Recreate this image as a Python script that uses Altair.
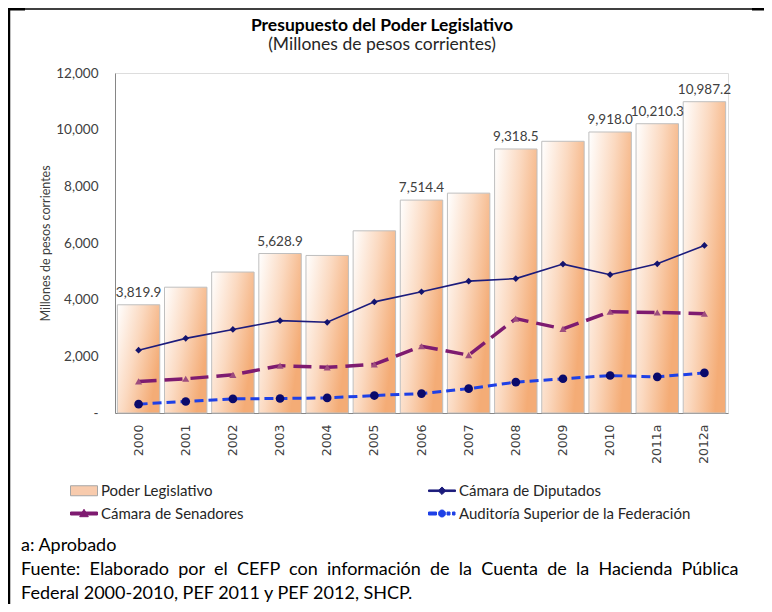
import altair as alt
import pandas as pd

# ---------------- data ----------------
years = ["2000", "2001", "2002", "2003", "2004", "2005", "2006",
         "2007", "2008", "2009", "2010", "2011a", "2012a"]
legislativo = [3819.9, 4440, 4975, 5628.9, 5560, 6430, 7514.4,
               7760, 9318.5, 9590, 9918.0, 10210.3, 10987.2]
diputados = [2217, 2634, 2948, 3260, 3201, 3922, 4280,
             4653, 4743, 5255, 4882, 5265, 5916]
senadores = [1114, 1208, 1347, 1670, 1611, 1716, 2356,
             2043, 3330, 2968, 3574, 3549, 3504]
auditoria = [313, 407, 498, 512, 533, 616, 686,
             860, 1089, 1208, 1322, 1277, 1416]
labeled_years = ["2000", "2003", "2006", "2008", "2010", "2011a", "2012a"]
series = ["Poder Legislativo", "Cámara de Diputados",
          "Cámara de Senadores", "Auditoría Superior de la Federación"]
legend_order = ["Poder Legislativo", "Cámara de Senadores",
                "Cámara de Diputados", "Auditoría Superior de la Federación"]
y_ticks = [0, 2000, 4000, 6000, 8000, 10000, 12000]
title_text = "Presupuesto del Poder Legislativo"
subtitle_text = "(Millones de pesos corrientes)"
note_line1 = "a: Aprobado"
note_line2_words = ["Fuente:", "Elaborado", "por", "el", "CEFP", "con", "información", "de",
                    "la", "Cuenta", "de", "la", "Hacienda", "Pública"]
note_line3 = "Federal 2000-2010, PEF 2011 y PEF 2012, SHCP."

NBSP = "\u00A0"
note_line2 = (NBSP * 2).join(note_line2_words)   # justified line in the original
footnote = "\n".join([note_line1, note_line2, note_line3])

rows = []
for name, vals in zip(series, [legislativo, diputados, senadores, auditoria]):
    for yr, v in zip(years, vals):
        rows.append({"year": yr, "serie": name, "valor": v})
df = pd.DataFrame(rows)

# ---------------- styling ----------------
FONT = "Lato"
W, H = 613, 340
PAD = {"left": 107, "top": 65, "right": 36, "bottom": 191}

x_enc = alt.X("year:N", sort=years, title=None,
              scale=alt.Scale(paddingInner=0.1, paddingOuter=0.05),
              axis=alt.Axis(labelAngle=270, labelFont="DejaVu Sans", labelFontSize=12.5,
                            labelColor="#404040", labelPadding=11, ticks=False,
                            domainColor="#868686", domainWidth=1))
y_enc = alt.Y("valor:Q", title="Millones de pesos corrientes",
              scale=alt.Scale(domain=[0, 12000], nice=False),
              axis=alt.Axis(values=y_ticks, grid=False, ticks=False,
                            labelExpr="datum.value == 0 ? '-' : format(datum.value, ',')",
                            labelFont=FONT, labelFontSize=13.5, labelColor="#404040",
                            labelPadding=17, domainColor="#868686",
                            titleFont=FONT, titleFontSize=12.5, titleFontWeight="normal",
                            titleColor="#404040", titlePadding=3))

gradient = alt.Gradient(
    gradient="linear",
    stops=[alt.GradientStop(color="#FFFFFF", offset=0),
           alt.GradientStop(color="#FBD9C0", offset=0.5),
           alt.GradientStop(color="#F4AC76", offset=1)],
    x1=0, x2=1, y1=0, y2=0.5,
)

base = alt.Chart(df)

bars = base.transform_filter(alt.datum.serie == series[0]).mark_bar(
    color=gradient, stroke="#BFBFBF", strokeWidth=1
).encode(x=x_enc, y=y_enc)

bar_labels = base.transform_filter(alt.datum.serie == series[0]).transform_filter(
    alt.FieldOneOfPredicate(field="year", oneOf=labeled_years)
).mark_text(baseline="bottom", dy=-5, font=FONT, fontSize=13.5, color="#404040").encode(
    x=x_enc, y=y_enc, text=alt.Text("valor:Q", format=",.1f"))

dip = base.transform_filter(alt.datum.serie == series[1])
dip_line = dip.mark_line(color="#1C1C7C", strokeWidth=1.6).encode(x=x_enc, y=y_enc)
dip_pts = dip.mark_point(shape="diamond", filled=True, color="#14146E", size=45, opacity=1).encode(x=x_enc, y=y_enc)

sen = base.transform_filter(alt.datum.serie == series[2])
sen_line = sen.mark_line(color="#7E1B70", strokeWidth=3.5, strokeDash=[18, 8]).encode(x=x_enc, y=y_enc)
sen_pts = sen.mark_point(shape="triangle-up", filled=True, color="#9E4D7E", size=50, opacity=1).encode(x=x_enc, y=y_enc)

aud = base.transform_filter(alt.datum.serie == series[3])
aud_line = aud.mark_line(color="#1E40E6", strokeWidth=3, strokeDash=[9, 5]).encode(x=x_enc, y=y_enc)
aud_pts = aud.mark_point(shape="circle", filled=True, color="#0A0A6B", size=75, opacity=1).encode(x=x_enc, y=y_enc)

# legend (custom symbol paths combining line + marker)
path_of = {
    "Poder Legislativo": "M-1.7,-0.5H1.0V0.5H-1.7Z",
    "Cámara de Diputados": "M-1.7,-0.08H1.0V0.08H-1.7Z M-0.35,-0.38L0.03,0L-0.35,0.38L-0.73,0Z",
    "Cámara de Senadores": "M-1.7,-0.15H1.0V0.15H-1.7Z M-0.35,-0.42L0.08,0.32H-0.78Z",
    "Auditoría Superior de la Federación":
        "M-1.7,-0.15H-0.9V0.15H-1.7Z M-0.7,0A0.35,0.35 0 1,1 0,0A0.35,0.35 0 1,1 -0.7,0Z "
        "M0.15,-0.15H0.45V0.15H0.15Z M0.7,-0.15H0.95V0.15H0.7Z",
}
fill_of = {"Poder Legislativo": "#F8CBAD", "Cámara de Diputados": "#1C1C7C",
           "Cámara de Senadores": "#7E1B70", "Auditoría Superior de la Federación": "#1E40E6"}
stroke_of = {"Poder Legislativo": "#A6A6A6", "Cámara de Diputados": "#1C1C7C",
             "Cámara de Senadores": "#7E1B70", "Auditoría Superior de la Federación": "#1E40E6"}

leg = alt.Legend(orient="none", legendX=-38, legendY=407, columns=2, columnPadding=182,
                 rowPadding=4, symbolSize=400, symbolStrokeWidth=1, symbolOpacity=1,
                 labelFont=FONT, labelFontSize=15, labelColor="#262626", labelOffset=3,
                 title=None, padding=0, labelLimit=400)

legend_layer = alt.Chart(pd.DataFrame({"serie": legend_order})).mark_point(
    filled=True, opacity=0
).encode(
    fill=alt.Fill("serie:N", sort=legend_order,
                  scale=alt.Scale(domain=legend_order, range=[fill_of[s] for s in legend_order]), legend=leg),
    stroke=alt.Stroke("serie:N", sort=legend_order,
                      scale=alt.Scale(domain=legend_order, range=[stroke_of[s] for s in legend_order]), legend=leg),
    shape=alt.Shape("serie:N", sort=legend_order,
                    scale=alt.Scale(domain=legend_order, range=[path_of[s] for s in legend_order]), legend=leg),
)

one = pd.DataFrame({"a": [0]})
frame_left = alt.Chart(one).mark_rule(color="#000000", strokeWidth=2.5).encode(
    x=alt.value(-106), y=alt.value(-65), y2=alt.value(531))
frame_top = alt.Chart(one).mark_rule(color="#000000", strokeWidth=1.5).encode(
    x=alt.value(-107), x2=alt.value(649), y=alt.value(-64))
frame_top_l = alt.Chart(one).mark_rule(color="#000000", strokeWidth=3).encode(
    x=alt.value(-107), x2=alt.value(-90), y=alt.value(-64))
frame_top_r = alt.Chart(one).mark_rule(color="#000000", strokeWidth=3).encode(
    x=alt.value(637), x2=alt.value(649), y=alt.value(-64))

title_mark = alt.Chart(one).mark_text(
    align="center", baseline="middle", font=FONT, fontSize=17.5, fontWeight="bold", color="#000000"
).encode(x=alt.value(267), y=alt.value(-47), text=alt.value(title_text))
subtitle_mark = alt.Chart(one).mark_text(
    align="center", baseline="middle", font=FONT, fontSize=17.5, color="#262626"
).encode(x=alt.value(267), y=alt.value(-28), text=alt.value(subtitle_text))

notes = alt.Chart(one).mark_text(
    align="left", baseline="middle", lineBreak="\n", lineHeight=24,
    font=FONT, fontSize=18, color="#000000"
).encode(x=alt.value(-94), y=alt.value(473), text=alt.value(footnote))

chart = alt.layer(
    bars, bar_labels, sen_line, sen_pts, aud_line, aud_pts, dip_line, dip_pts,
    legend_layer, frame_left, frame_top, frame_top_l, frame_top_r,
    title_mark, subtitle_mark, notes
).properties(
    width=W, height=H,
    autosize=alt.AutoSizeParams(type="none"),
    padding=PAD,
).configure_view(stroke=None).configure(background="white")

chart.save("out.html", embed_options={"renderer": "svg", "actions": False})
